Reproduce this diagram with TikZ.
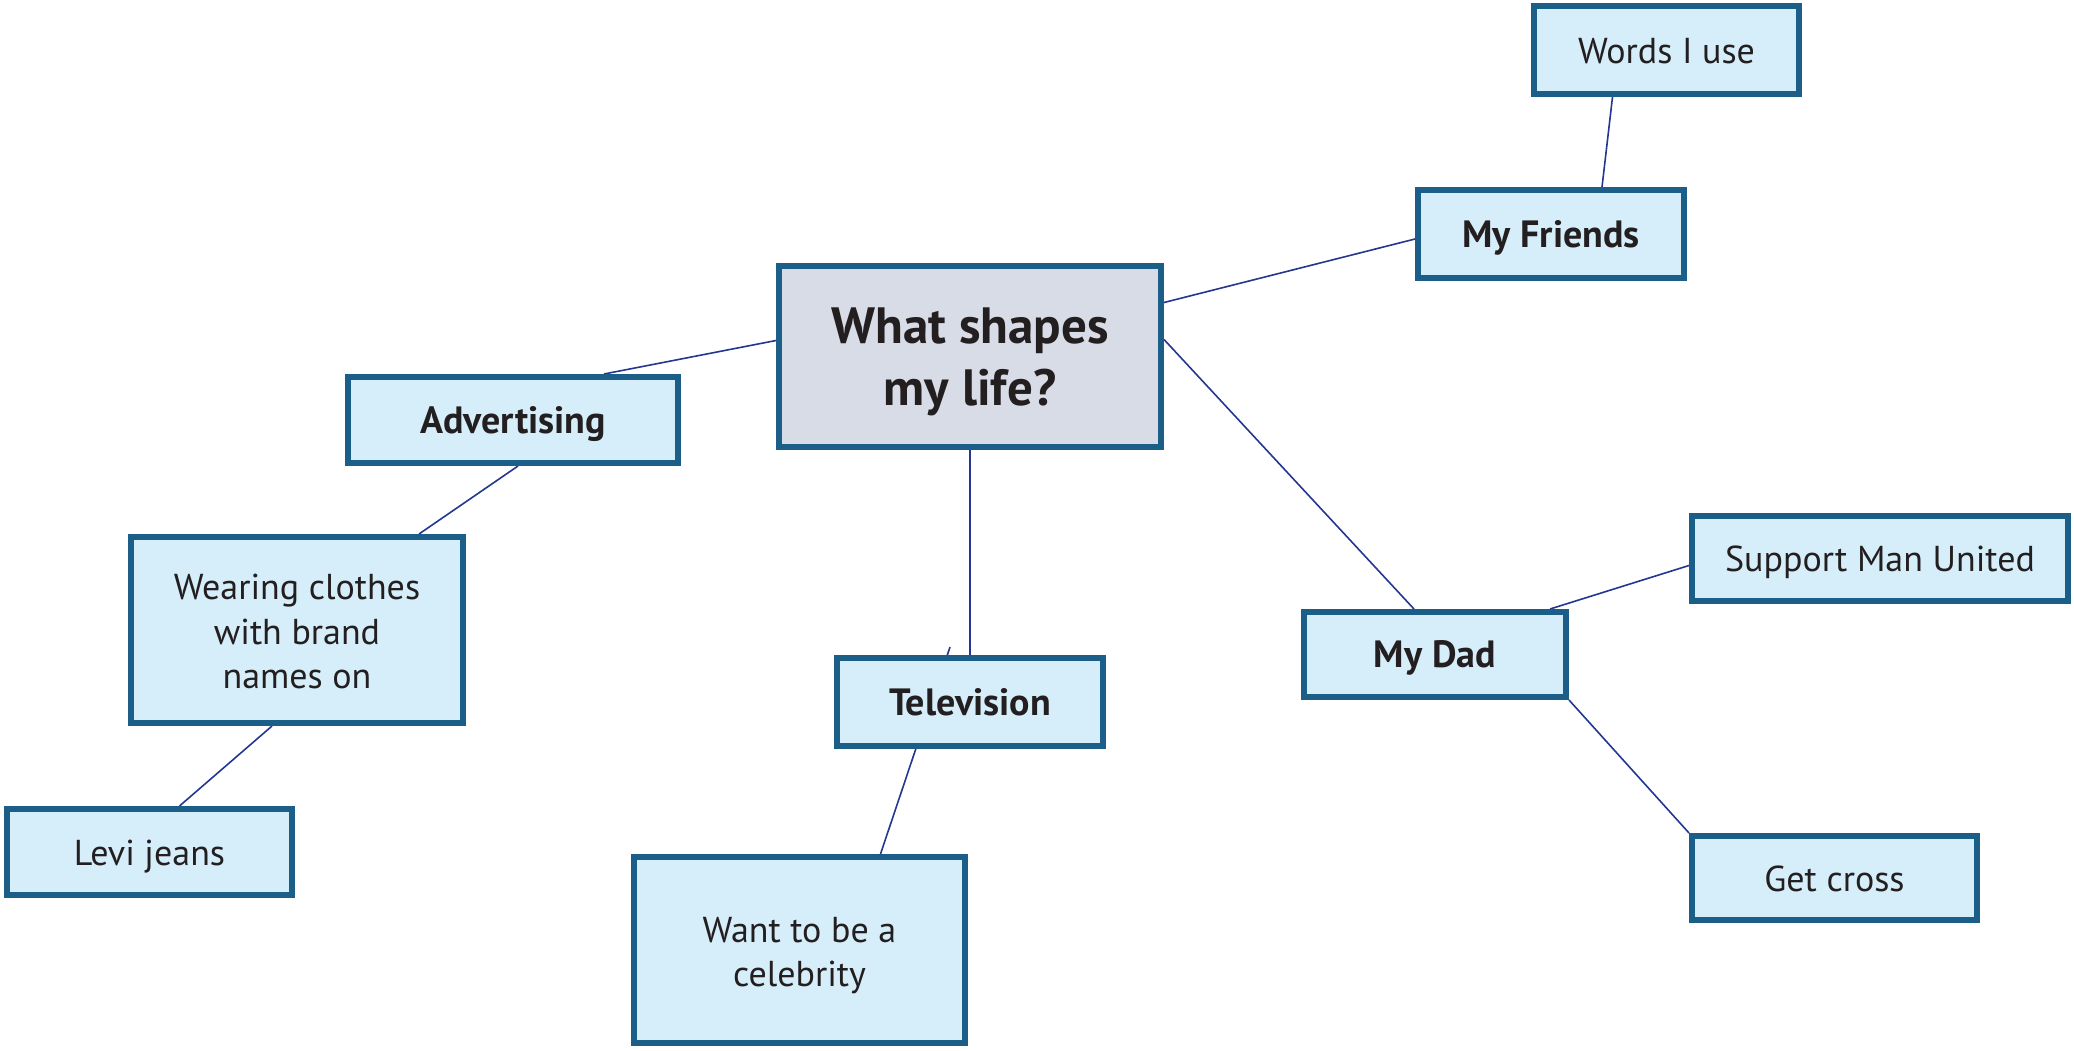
\documentclass[tikz,border=0pt]{standalone}
\usepackage{fontspec}
\setmainfont{PT Sans}
\usetikzlibrary{calc,backgrounds}
\definecolor{bd}{RGB}{27,94,135}
\definecolor{lb}{RGB}{214,238,249}
\definecolor{cf}{RGB}{216,220,230}
\definecolor{ln}{RGB}{35,55,145}
\definecolor{txt}{RGB}{35,31,32}
\newcommand\toppad[1]{\rule{0pt}{#1}}
\newcommand\botpad[1]{\rule[-#1]{0pt}{0pt}}
\begin{document}
\begin{tikzpicture}[x=1pt,y=-1pt,
  box/.style={draw=bd, line width=6pt, fill=lb, inner sep=0pt, align=center, text=txt,
    font=\fontsize{36}{44.5}\selectfont},
  one/.style={text height=26.5pt, text depth=0pt},
  boldbox/.style={box, one, font=\fontsize{38}{44.5}\selectfont\bfseries},
  mainbox/.style={box, fill=cf, font=\fontsize{51}{61.5}\selectfont\bfseries},
  conn/.style={draw=ln, line width=1.6pt}]
\useasboundingbox (0,0) rectangle (2074,1050);

\node[mainbox, minimum width=382pt, minimum height=181pt] (ctr) at (970,356.5) {\toppad{50pt}What shapes\\my life?\botpad{14pt}};
\node[box, one, minimum width=265pt, minimum height=88pt] (words) at (1666.5,50) {Words I use};
\node[boldbox, minimum width=266pt, minimum height=88pt] (fr) at (1551,234) {My Friends};
\node[boldbox, minimum width=330pt, minimum height=86pt] (adv) at (513,420) {Advertising};
\node[box, minimum width=332pt, minimum height=186pt] (wear) at (297,630) {\toppad{40pt}Wearing clothes\\with brand\\names on\botpad{12pt}};
\node[box, one, minimum width=285pt, minimum height=86pt] (levi) at (149.5,852) {Levi jeans};
\node[boldbox, minimum width=266pt, minimum height=88pt] (tv) at (970,702) {Television};
\node[box, minimum width=331pt, minimum height=186pt] (cel) at (799.5,950) {\toppad{41pt}Want to be a\\celebrity\botpad{12pt}};
\node[boldbox, minimum width=262pt, minimum height=85pt] (dad) at (1435,654.5) {My Dad};
\node[box, one, minimum width=376pt, minimum height=85pt] (sup) at (1880,558.5) {Support Man United};
\node[box, one, minimum width=285pt, minimum height=84pt] (gc) at (1834.5,878) {Get cross};

\begin{scope}[on background layer]
\draw[conn] ($(ctr.west)+(0,-16)$) -- ($(adv.north)+(91,0)$);
\draw[conn] ($(ctr.east)+(0,-54)$) -- ($(fr.west)+(0,5)$);
\draw[conn] ($(ctr.east)+(0,-17)$) -- ($(dad.north)+(-21,0)$);
\draw[conn] (ctr.south) -- (tv.north);
\coordinate (tvstub) at ($(tv.north)+(-20,-8)$);
\draw[conn] ($(cel.north)+(81,0)$) -- (tvstub);
\draw[conn] ($(adv.south)+(5,0)$) -- ($(wear.north)+(122,0)$);
\draw[conn] ($(wear.south)+(-25,0)$) -- ($(levi.north)+(30,0)$);
\draw[conn] ($(fr.north)+(51,0)$) -- ($(words.south)+(-54,0)$);
\draw[conn] ($(dad.north)+(115,0)$) -- ($(sup.west)+(0,7)$);
\draw[conn] (dad.south east) -- (gc.north west);
\end{scope}
\end{tikzpicture}
\end{document}
